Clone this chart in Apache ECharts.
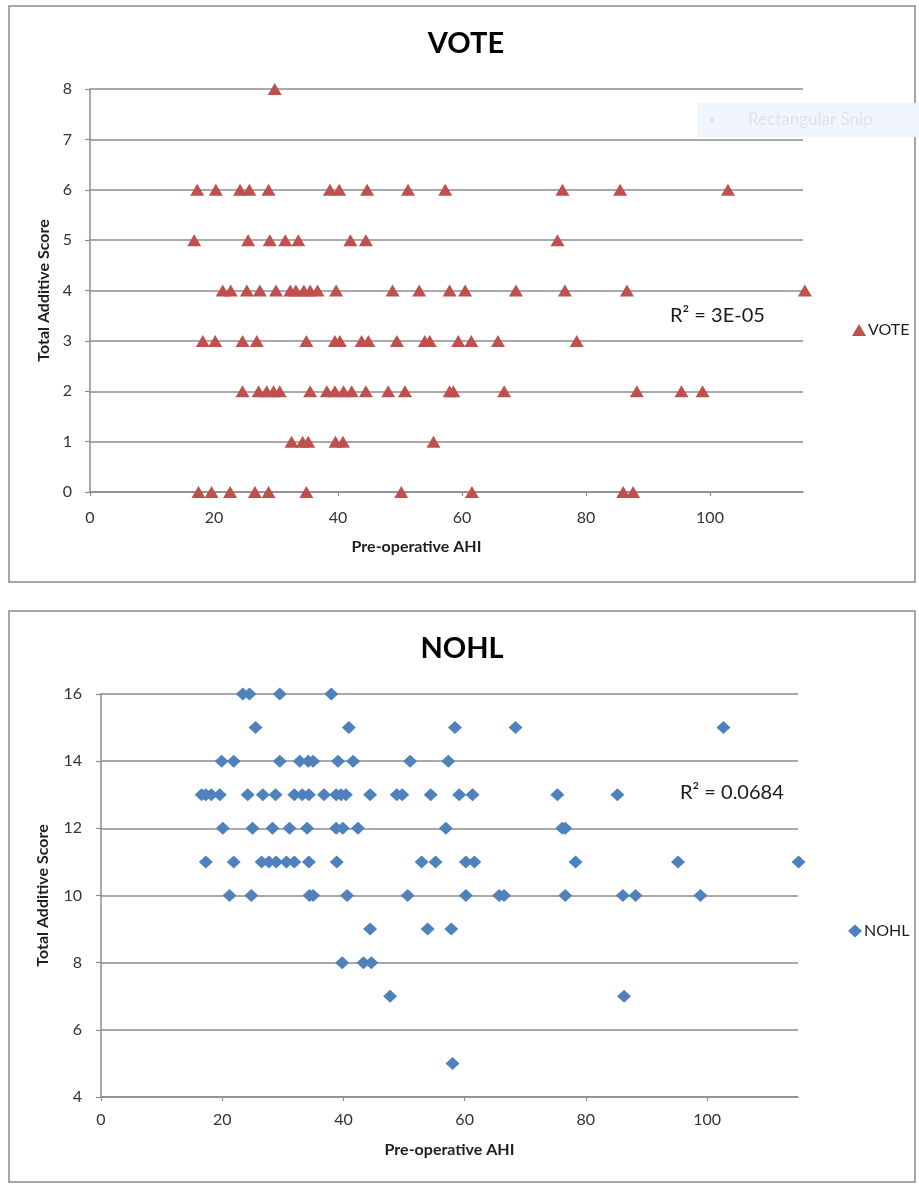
<!DOCTYPE html>
<html>
<head>
<meta charset="utf-8">
<script src="https://cdn.jsdelivr.net/npm/echarts@6/dist/echarts.min.js"></script>
<style>
html,body{margin:0;padding:0;background:#fff;}
#c{width:919px;height:1186px;}
</style>
</head>
<body>
<div id="c"></div>
<script>
// ---------- DATA ----------
// VOTE chart: Total Additive Score levels and the Pre-operative AHI values at each level
const voteLevels = [0, 1, 2, 3, 4, 5, 6, 7, 8];
const voteAhiByLevel = [
  [17.5, 19.6, 22.6, 26.6, 28.8, 34.9, 50.2, 61.6, 86.0, 87.6],
  [32.5, 34.3, 35.2, 39.6, 40.8, 55.4],
  [24.6, 27.2, 28.5, 29.6, 30.6, 35.5, 38.2, 39.5, 40.9, 42.2, 44.5, 48.1, 50.8, 58.0, 58.6, 66.8, 88.2, 95.4, 98.8],
  [18.2, 20.2, 24.6, 26.9, 34.9, 39.5, 40.3, 43.8, 44.9, 49.5, 54.0, 54.8, 59.4, 61.5, 65.8, 78.5],
  [21.4, 22.7, 25.3, 27.4, 30.0, 32.3, 33.2, 34.5, 35.5, 36.7, 39.7, 48.8, 53.1, 58.0, 60.5, 68.7, 76.6, 86.6, 115.3],
  [16.8, 25.5, 29.0, 31.5, 33.6, 42.0, 44.5, 75.4],
  [17.3, 20.3, 24.2, 25.7, 28.8, 38.7, 40.2, 44.7, 51.3, 57.3, 76.2, 85.5, 102.9],
  [],
  [29.8]
];
const voteR2 = 'R² = 3E-05';

// NOHL chart
const nohlLevels = [5, 7, 8, 9, 10, 11, 12, 13, 14, 15, 16];
const nohlAhiByLevel = [
  [58.0],
  [47.7, 86.3],
  [39.8, 43.3, 44.6],
  [44.4, 53.9, 57.8],
  [21.2, 24.8, 34.4, 35.0, 40.6, 50.6, 60.2, 65.7, 66.5, 76.6, 86.1, 88.2, 98.9],
  [17.3, 21.9, 26.5, 27.7, 28.9, 30.6, 31.9, 34.3, 38.9, 52.9, 55.2, 60.2, 61.6, 78.3, 95.2, 115.1],
  [20.1, 25.0, 28.3, 31.1, 34.0, 38.8, 39.9, 42.4, 56.9, 76.1, 76.6],
  [16.6, 17.3, 18.2, 19.6, 24.2, 26.7, 28.8, 31.9, 33.2, 34.3, 36.8, 38.8, 39.6, 40.4, 44.4, 48.8, 49.7, 54.4, 59.1, 61.3, 75.3, 85.2],
  [19.9, 21.9, 29.5, 32.8, 34.2, 35.0, 39.1, 41.6, 51.0, 57.3],
  [25.5, 40.9, 58.4, 68.4, 102.7],
  [23.4, 24.5, 29.5, 38.0]
];
const nohlR2 = 'R² = 0.0684';

const xTicksAHI = [0, 20, 40, 60, 80, 100];

// ---------- BUILD ----------
function pairs(levels, byLevel) {
  const out = [];
  levels.forEach((lv, i) => byLevel[i].forEach(x => out.push([x, lv])));
  return out;
}
const voteData = pairs(voteLevels, voteAhiByLevel);
const nohlData = pairs(nohlLevels, nohlAhiByLevel);

const FONT = 'Lato, "Open Sans", "Liberation Sans", sans-serif';
const GRID_COLOR = '#8c8c8c';
const LABEL_COLOR = '#333333';
const NAME_STYLE = {color: '#1e1e1e', fontSize: 16, fontWeight: 'bold', fontFamily: FONT};

function xAxisCfg(gridIndex, margin, nameGap, namePadding) {
  return {
    type: 'value', gridIndex: gridIndex, min: 0, max: 115, interval: 20,
    axisLine: {show: true, onZero: false, lineStyle: {color: GRID_COLOR, width: 1.5}},
    axisTick: {show: true, length: 4, lineStyle: {color: GRID_COLOR, width: 1.2}},
    axisLabel: {color: LABEL_COLOR, fontSize: 16, fontFamily: FONT, margin: margin, showMaxLabel: false,
      formatter: v => (xTicksAHI.indexOf(v) >= 0 ? String(v) : '')},
    splitLine: {show: false},
    name: 'Pre-operative AHI', nameLocation: 'middle', nameGap: nameGap,
    nameTextStyle: Object.assign({}, NAME_STYLE, {padding: namePadding})
  };
}
function yAxisCfg(gridIndex, min, max, interval, margin, nameGap) {
  return {
    type: 'value', gridIndex: gridIndex, min: min, max: max, interval: interval,
    axisLine: {show: true, lineStyle: {color: GRID_COLOR, width: 1.5}},
    axisTick: {show: true, length: 5, lineStyle: {color: GRID_COLOR, width: 1.2}},
    axisLabel: {color: LABEL_COLOR, fontSize: 16, fontFamily: FONT, margin: margin},
    splitLine: {show: true, lineStyle: {color: GRID_COLOR, width: 1.5}},
    name: 'Total Additive Score', nameLocation: 'middle', nameGap: nameGap,
    nameTextStyle: NAME_STYLE
  };
}

const chart = echarts.init(document.getElementById('c'), null, {renderer: 'canvas'});
const option = {
  animation: false,
  backgroundColor: '#ffffff',
  textStyle: {fontFamily: FONT},
  title: [
    {text: 'VOTE', left: 466, top: 29, textAlign: 'center', padding: 0,
     textStyle: {fontSize: 29, fontWeight: 'bold', color: '#000', fontFamily: FONT}},
    {text: 'NOHL', left: 462, top: 634, textAlign: 'center', padding: 0,
     textStyle: {fontSize: 29, fontWeight: 'bold', color: '#000', fontFamily: FONT}}
  ],
  legend: [
    {data: ['VOTE'], left: 847, top: 317, itemWidth: 14, itemHeight: 12, itemGap: 2,
     icon: 'triangle', textStyle: {fontSize: 16, color: '#1e1e1e', fontFamily: FONT, padding: [0, 0, 0, -3]}},
    {data: ['NOHL'], left: 843, top: 918, itemWidth: 14, itemHeight: 13, itemGap: 2,
     icon: 'diamond', textStyle: {fontSize: 16, color: '#1e1e1e', fontFamily: FONT, padding: [0, 0, 0, -3]}}
  ],
  grid: [
    {left: 90, right: 116, top: 89, height: 403},
    {left: 101, right: 121, top: 694, height: 403}
  ],
  xAxis: [
    xAxisCfg(0, 18, 47, [0, 60, 0, 0]),
    xAxisCfg(1, 15, 45, 0)
  ],
  yAxis: [
    yAxisCfg(0, 0, 8, 1, 18, 37),
    yAxisCfg(1, 4, 16, 2, 19, 50)
  ],
  series: [
    {name: 'VOTE', type: 'scatter', xAxisIndex: 0, yAxisIndex: 0, data: voteData, clip: false,
     symbol: 'triangle', symbolSize: [14, 12], itemStyle: {color: '#C0504D', opacity: 1}},
    {name: 'NOHL', type: 'scatter', xAxisIndex: 1, yAxisIndex: 1, data: nohlData, clip: false,
     symbol: 'diamond', symbolSize: [14, 13], itemStyle: {color: '#4F81BD', opacity: 1}}
  ],
  graphic: [
    {type: 'rect', z: -10, shape: {x: 9, y: 6, width: 906, height: 576},
     style: {fill: 'none', stroke: '#8a8a8a', lineWidth: 1.5}},
    {type: 'rect', z: -10, shape: {x: 9, y: 611, width: 906, height: 571},
     style: {fill: 'none', stroke: '#8a8a8a', lineWidth: 1.5}},
    // faint screen-capture artifact box
    {type: 'rect', z: -5, shape: {x: 697, y: 103, width: 222, height: 34},
     style: {fill: '#f1f6fc'}},
    {type: 'circle', z: -4, shape: {cx: 712, cy: 120, r: 2.5}, style: {fill: '#dfe6ee'}},
    {type: 'text', z: -4, x: 748, y: 120,
     style: {text: 'Rectangular Snip', fill: '#dce4ed', font: '17px ' + FONT, textVerticalAlign: 'middle'}},
    // R² labels
    {type: 'text', x: 670, y: 316,
     style: {text: voteR2, fill: '#1a1a1a', font: '20px ' + FONT, textVerticalAlign: 'middle'}},
    {type: 'text', x: 680, y: 793,
     style: {text: nohlR2, fill: '#1a1a1a', font: '20px ' + FONT, textVerticalAlign: 'middle'}}
  ]
};
chart.setOption(option);
</script>
</body>
</html>
